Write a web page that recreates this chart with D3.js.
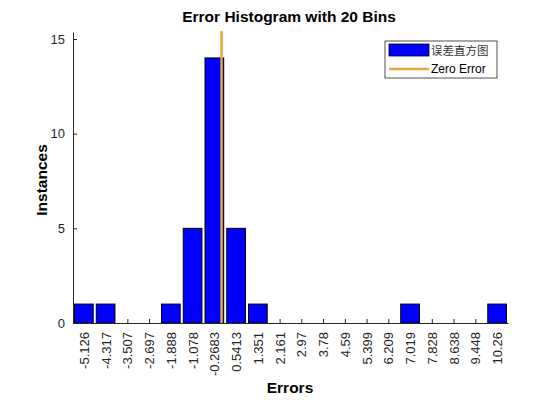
<!DOCTYPE html>
<html><head><meta charset="utf-8">
<script src="https://cdn.jsdelivr.net/npm/d3@7"></script>
<style>body{margin:0;background:#fff}</style>
</head><body>
<svg id="c" width="560" height="420"></svg>
<script>
const binCenters = [-5.126,-4.317,-3.507,-2.697,-1.888,-1.078,-0.2683,0.5413,1.351,2.161,2.97,3.78,4.59,5.399,6.209,7.019,7.828,8.638,9.448,10.26];
const binLabels = ["-5.126","-4.317","-3.507","-2.697","-1.888","-1.078","-0.2683","0.5413","1.351","2.161","2.97","3.78","4.59","5.399","6.209","7.019","7.828","8.638","9.448","10.26"];
const counts = [1,1,0,0,1,5,14,5,1,0,0,0,0,0,0,1,0,0,0,1];
const yTicks = [0,5,10,15];
const zeroError = 0;

const svg = d3.select("#c");
const m = {l:73, r:52, t:32, b:97};
const W = 560, H = 420;
const binW = (binCenters[binCenters.length-1]-binCenters[0])/(binCenters.length-1);
const x = d3.scaleLinear().domain([binCenters[0]-binW/2, binCenters[binCenters.length-1]+binW/2]).range([m.l, W-m.r]);
const y = d3.scaleLinear().domain([0,15.37]).range([H-m.b, m.t]);
const font = "Liberation Sans, Arial, sans-serif";
const txt = "#262626";

// bars
const bw = (x(binW)-x(0))*0.86;
svg.append("g").selectAll("rect").data(counts.map((c,i)=>({c,x:binCenters[i]})).filter(d=>d.c>0))
  .join("rect")
  .attr("x", d=>x(d.x)-bw/2).attr("width", bw)
  .attr("y", d=>y(d.c)).attr("height", d=>y(0)-y(d.c))
  .attr("fill","#0000ff").attr("stroke","#000").attr("stroke-width",1);

// zero line
svg.append("line").attr("x1",x(zeroError)).attr("x2",x(zeroError))
  .attr("y1",y(0)).attr("y2",m.t-1).attr("stroke","#eda63a").attr("stroke-width",2.5);

// x axis
const xa = svg.append("g").attr("transform",`translate(0,${y(0)})`)
  .call(d3.axisBottom(x).tickValues(binCenters).tickFormat((d,i)=>binLabels[i]).tickSizeInner(-4).tickSizeOuter(0));
xa.select(".domain").attr("stroke","#262626");
xa.selectAll(".tick line").attr("stroke","#262626");
xa.selectAll(".tick text").attr("transform","rotate(-90)").attr("text-anchor","end")
  .attr("x",-9).attr("y",0).attr("dy","0.35em")
  .attr("font-family",font).attr("font-size",13).attr("fill",txt);

// y axis
const ya = svg.append("g").attr("transform",`translate(${m.l},0)`)
  .call(d3.axisLeft(y).tickValues(yTicks).tickSizeInner(-4).tickSizeOuter(0));
ya.select(".domain").attr("stroke","#262626");
ya.selectAll(".tick line").attr("stroke","#262626");
ya.selectAll(".tick text").attr("x",-8).attr("font-family",font).attr("font-size",13).attr("fill",txt);

// titles
svg.append("text").attr("x",289).attr("y",22).attr("text-anchor","middle")
  .attr("font-family",font).attr("font-weight","bold").attr("font-size",15.5).attr("fill","#000")
  .text("Error Histogram with 20 Bins");
svg.append("text").attr("x",290).attr("y",393).attr("text-anchor","middle")
  .attr("font-family",font).attr("font-weight","bold").attr("font-size",15.5).attr("fill","#000")
  .text("Errors");
svg.append("text").attr("transform","translate(47,180) rotate(-90)").attr("text-anchor","middle")
  .attr("font-family",font).attr("font-weight","bold").attr("font-size",15.5).attr("fill","#000")
  .text("Instances");

// legend
const lg = svg.append("g").attr("transform","translate(385,41)");
lg.append("rect").attr("width",112).attr("height",37).attr("fill","#fff").attr("stroke","#262626").attr("stroke-width",0.8);
lg.append("rect").attr("x",4).attr("y",3).attr("width",40).attr("height",12).attr("fill","#0000ff").attr("stroke","#000").attr("stroke-width",0.8);
lg.append("text").attr("x",46).attr("y",13.5).attr("font-family","Noto Sans CJK SC, sans-serif").attr("font-size",11.5).attr("fill","#333").text("误差直方图");
lg.append("line").attr("x1",4).attr("x2",44).attr("y1",28).attr("y2",28).attr("stroke","#eda63a").attr("stroke-width",2.5);
lg.append("text").attr("x",46).attr("y",32).attr("font-family",font).attr("font-size",12).attr("fill","#000").text("Zero Error");
</script>
</body></html>
